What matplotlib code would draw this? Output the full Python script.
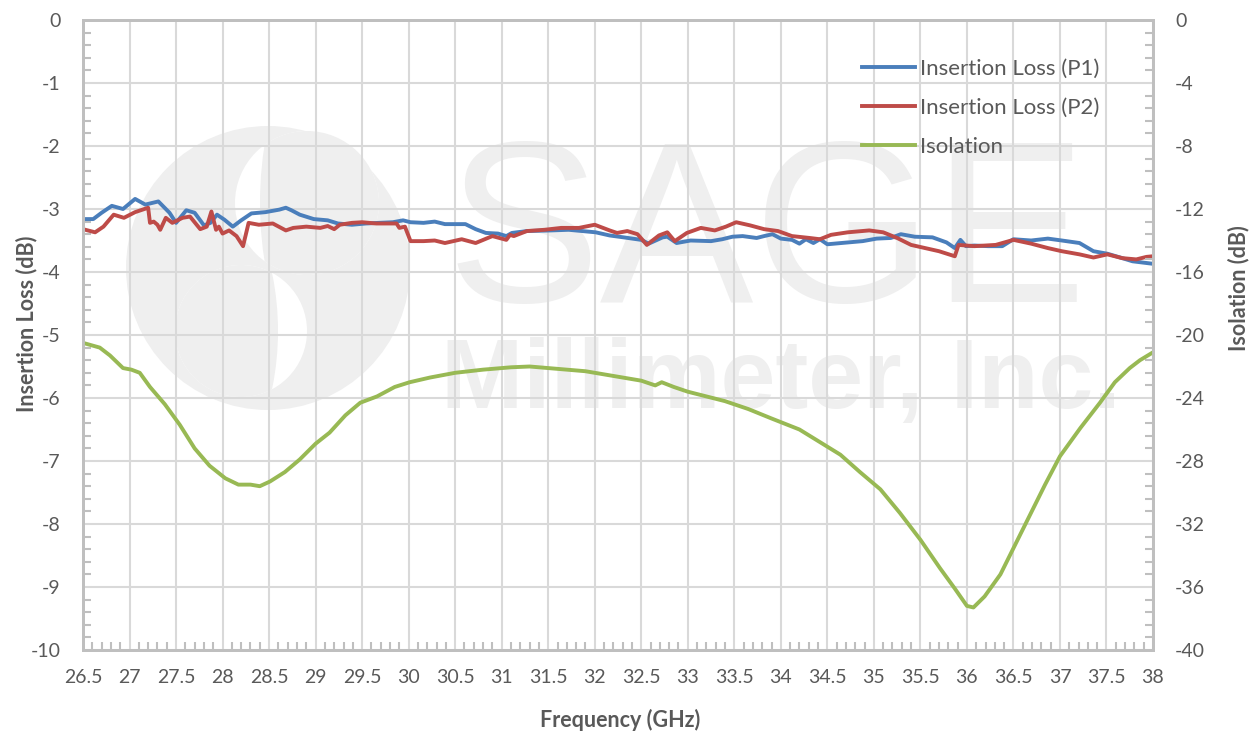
import matplotlib
matplotlib.use('Agg')
import matplotlib.pyplot as plt
from matplotlib.patches import Circle
from matplotlib.ticker import MultipleLocator

# Insertion loss, port 1 (GHz, dB)
freq_p1 = [26.5, 26.61, 26.7, 26.81, 26.93, 27.06, 27.17, 27.31, 27.43, 27.5, 27.61, 27.7, 27.8, 27.87,
           27.94, 28.02, 28.11, 28.2, 28.31, 28.46, 28.61, 28.68, 28.74, 28.83, 28.98, 29.13, 29.24, 29.39,
           29.54, 29.68, 29.83, 29.94, 30.02, 30.16, 30.28, 30.39, 30.61, 30.72, 30.83, 30.96, 31.05, 31.11,
           31.27, 31.53, 31.72, 32.01, 32.16, 32.31, 32.5, 32.58, 32.73, 32.78, 32.88, 33.03, 33.25, 33.37,
           33.48, 33.59, 33.74, 33.82, 33.91, 34.0, 34.12, 34.2, 34.27, 34.35, 34.42, 34.5, 34.65, 34.88,
           35.03, 35.18, 35.29, 35.44, 35.63, 35.78, 35.87, 35.93, 35.99, 36.08, 36.23, 36.38, 36.5, 36.69,
           36.87, 37.02, 37.21, 37.36, 37.51, 37.67, 37.78, 37.89, 38.0]
il_p1 = [-3.16, -3.16, -3.06, -2.95, -3.0, -2.84, -2.93, -2.88, -3.06, -3.22, -3.02, -3.06, -3.26, -3.22,
         -3.09, -3.17, -3.28, -3.18, -3.07, -3.05, -3.01, -2.98, -3.02, -3.09, -3.16, -3.18, -3.23, -3.25,
         -3.23, -3.22, -3.21, -3.18, -3.21, -3.22, -3.2, -3.24, -3.24, -3.32, -3.38, -3.39, -3.43, -3.38,
         -3.35, -3.34, -3.33, -3.37, -3.42, -3.45, -3.49, -3.55, -3.45, -3.44, -3.54, -3.5, -3.51, -3.48,
         -3.44, -3.43, -3.46, -3.43, -3.40, -3.47, -3.49, -3.55, -3.48, -3.54, -3.48, -3.56, -3.54, -3.51,
         -3.47, -3.46, -3.40, -3.44, -3.45, -3.53, -3.62, -3.49, -3.59, -3.58, -3.59, -3.59, -3.48, -3.50,
         -3.47, -3.50, -3.54, -3.67, -3.71, -3.78, -3.83, -3.85, -3.87]

# Insertion loss, port 2 (GHz, dB)
freq_p2 = [26.5, 26.63, 26.72, 26.83, 26.94, 27.06, 27.2, 27.22, 27.26, 27.3, 27.33, 27.39, 27.46, 27.57,
           27.65, 27.76, 27.83, 27.88, 27.93, 27.96, 28.0, 28.07, 28.15, 28.22, 28.28, 28.39, 28.54, 28.68,
           28.76, 28.9, 29.05, 29.13, 29.2, 29.26, 29.39, 29.5, 29.65, 29.79, 29.87, 29.9, 29.96, 30.02,
           30.16, 30.28, 30.39, 30.57, 30.72, 30.9, 31.05, 31.09, 31.13, 31.27, 31.46, 31.64, 31.83, 32.0,
           32.16, 32.24, 32.35, 32.46, 32.56, 32.69, 32.78, 32.86, 32.99, 33.14, 33.29, 33.41, 33.52, 33.67,
           33.82, 33.97, 34.12, 34.31, 34.42, 34.54, 34.72, 34.95, 35.1, 35.25, 35.4, 35.55, 35.7, 35.87,
           35.91, 36.08, 36.31, 36.5, 36.69, 36.87, 37.02, 37.21, 37.36, 37.51, 37.67, 37.82, 37.93, 38.0]
il_p2 = [-3.32, -3.37, -3.28, -3.09, -3.14, -3.05, -2.98, -3.22, -3.2, -3.25, -3.33, -3.14, -3.22, -3.14,
         -3.12, -3.32, -3.28, -3.04, -3.33, -3.28, -3.39, -3.34, -3.43, -3.59, -3.22, -3.25, -3.23, -3.34,
         -3.3, -3.28, -3.3, -3.27, -3.32, -3.25, -3.22, -3.21, -3.23, -3.23, -3.23, -3.3, -3.28, -3.51,
         -3.51, -3.5, -3.54, -3.48, -3.54, -3.43, -3.49, -3.41, -3.43, -3.35, -3.33, -3.3, -3.3, -3.25,
         -3.34, -3.38, -3.35, -3.40, -3.57, -3.42, -3.37, -3.51, -3.38, -3.30, -3.34, -3.28, -3.21, -3.26,
         -3.32, -3.35, -3.43, -3.46, -3.48, -3.41, -3.37, -3.34, -3.37, -3.46, -3.57, -3.62, -3.67, -3.75,
         -3.57, -3.59, -3.57, -3.49, -3.55, -3.62, -3.67, -3.72, -3.77, -3.72, -3.78, -3.80, -3.76, -3.75]

# Isolation (GHz, dB)
freq_iso = [26.5, 26.68, 26.79, 26.93, 27.02, 27.11, 27.22, 27.38, 27.54, 27.7, 27.86, 28.03, 28.17, 28.3,
            28.4, 28.51, 28.67, 28.83, 29.0, 29.15, 29.32, 29.48, 29.66, 29.85, 30.01, 30.23, 30.5, 30.8,
            31.1, 31.3, 31.6, 31.9, 32.2, 32.5, 32.65, 32.72, 32.85, 33.0, 33.2, 33.4, 33.65, 33.9, 34.2,
            34.42, 34.64, 34.85, 35.07, 35.28, 35.5, 35.71, 35.87, 36.0, 36.07, 36.19, 36.36, 36.52, 36.68,
            36.84, 37.0, 37.22, 37.43, 37.59, 37.75, 37.86, 38.0]
iso = [-20.5, -20.8, -21.3, -22.1, -22.2, -22.4, -23.3, -24.4, -25.7, -27.2, -28.3, -29.1, -29.5, -29.5,
       -29.6, -29.3, -28.7, -27.9, -26.9, -26.2, -25.1, -24.3, -23.9, -23.3, -23.0, -22.7, -22.4, -22.2,
       -22.05, -22.0, -22.15, -22.3, -22.6, -22.9, -23.2, -23.0, -23.3, -23.6, -23.9, -24.2, -24.7, -25.3,
       -26.0, -26.8, -27.6, -28.7, -29.8, -31.3, -33.0, -34.8, -36.1, -37.2, -37.3, -36.6, -35.2, -33.3,
       -31.4, -29.5, -27.7, -25.9, -24.3, -23.0, -22.1, -21.6, -21.1]

grey_txt = '#595959'
grid_c = '#d9d9d9'
wm_c = '#efefef'
plt.rcParams['font.family'] = ['Lato', 'DejaVu Sans']
plt.rcParams['axes.unicode_minus'] = False

fig = plt.figure(figsize=(12.58, 7.36), dpi=100)

# watermark layer in pixel coordinates
wm = fig.add_axes([0, 0, 1, 1])
wm.set_xlim(0, 1258)
wm.set_ylim(736, 0)
wm.axis('off')
outer = Circle((268, 268), 142, color=wm_c, lw=0)
wm.add_patch(outer)
a = Circle((307, 203), 72, color='white', lw=0)
wm.add_patch(a)
b = Circle((635, 203), 375, color=wm_c, lw=0)
wm.add_patch(b)
b.set_clip_path(a)
c = Circle((241, 331), 66, color='white', lw=0)
wm.add_patch(c)
d = Circle((-10, 331), 288, color=wm_c, lw=0)
wm.add_patch(d)
d.set_clip_path(c)
wm.text(447, 302, 'SAGE', family='Liberation Sans', fontsize=166, color=wm_c, va='baseline', ha='left')
wm.text(441, 408, 'Millimeter, Inc.', family='Liberation Sans', fontweight='bold', fontsize=71,
        color=wm_c, va='baseline', ha='left')

ax = fig.add_axes([83 / 1258, 86 / 736, 1070 / 1258, 630 / 736])
ax.patch.set_alpha(0)
ax2 = ax.twinx()

l1, = ax.plot(freq_p1, il_p1, color='#4a7ebb', lw=2.8, solid_joinstyle='round', label='Insertion Loss (P1)')
l2, = ax.plot(freq_p2, il_p2, color='#be4b48', lw=2.8, solid_joinstyle='round', label='Insertion Loss (P2)')
l3, = ax2.plot(freq_iso, iso, color='#98b954', lw=2.8, solid_joinstyle='round', label='Isolation')

ax.set_xlim(26.5, 38)
ax.set_ylim(-10, 0)
ax2.set_ylim(-40, 0)
ax.xaxis.set_major_locator(MultipleLocator(0.5))
ax.xaxis.set_minor_locator(MultipleLocator(0.1))
ax.yaxis.set_major_locator(MultipleLocator(1))
ax.yaxis.set_minor_locator(MultipleLocator(0.2))
ax2.yaxis.set_major_locator(MultipleLocator(4))
ax2.yaxis.set_minor_locator(MultipleLocator(0.8))
ax.xaxis.set_major_formatter(matplotlib.ticker.FuncFormatter(lambda v, p: f'{v:g}'))

ax.grid(True, which='major', color=grid_c, lw=1.5)
ax.set_axisbelow(True)
for a_ in (ax, ax2):
    for s in a_.spines.values():
        s.set_color('#bfbfbf')
        s.set_linewidth(2)
ax.tick_params(which='major', length=0, labelsize=14, labelcolor=grey_txt)
ax.tick_params(axis='y', which='major', pad=16)
ax.tick_params(axis='x', which='major', pad=14)
ax.tick_params(which='minor', direction='in', length=6, width=1.5, color='#bfbfbf')
ax2.tick_params(which='major', length=0, labelsize=14, labelcolor=grey_txt, pad=16)
ax2.tick_params(which='minor', direction='in', length=6, width=1.5, color='#bfbfbf')

ax.set_xlabel('Frequency (GHz)', fontsize=15.5, fontweight='bold', color=grey_txt)
ax.xaxis.set_label_coords(0.502, -0.094)
ax.set_ylabel('Insertion Loss (dB)', fontsize=15.5, fontweight='bold', color=grey_txt)
ax.yaxis.set_label_coords(-0.043, 0.517)
ax2.set_ylabel('Isolation (dB)', fontsize=15.5, fontweight='bold', color=grey_txt, rotation=90)
ax2.yaxis.set_label_coords(1.070, 0.574)

ax2.legend(handles=[l1, l2, l3], loc='upper left', bbox_to_anchor=((862 - 83) / 1070, 1 - (59 - 20) / 630),
           frameon=False, fontsize=16, labelcolor=grey_txt, borderpad=0, borderaxespad=0,
           handlelength=2.4, handletextpad=0.2, labelspacing=0.85)

fig.savefig('out.png', dpi=100)
